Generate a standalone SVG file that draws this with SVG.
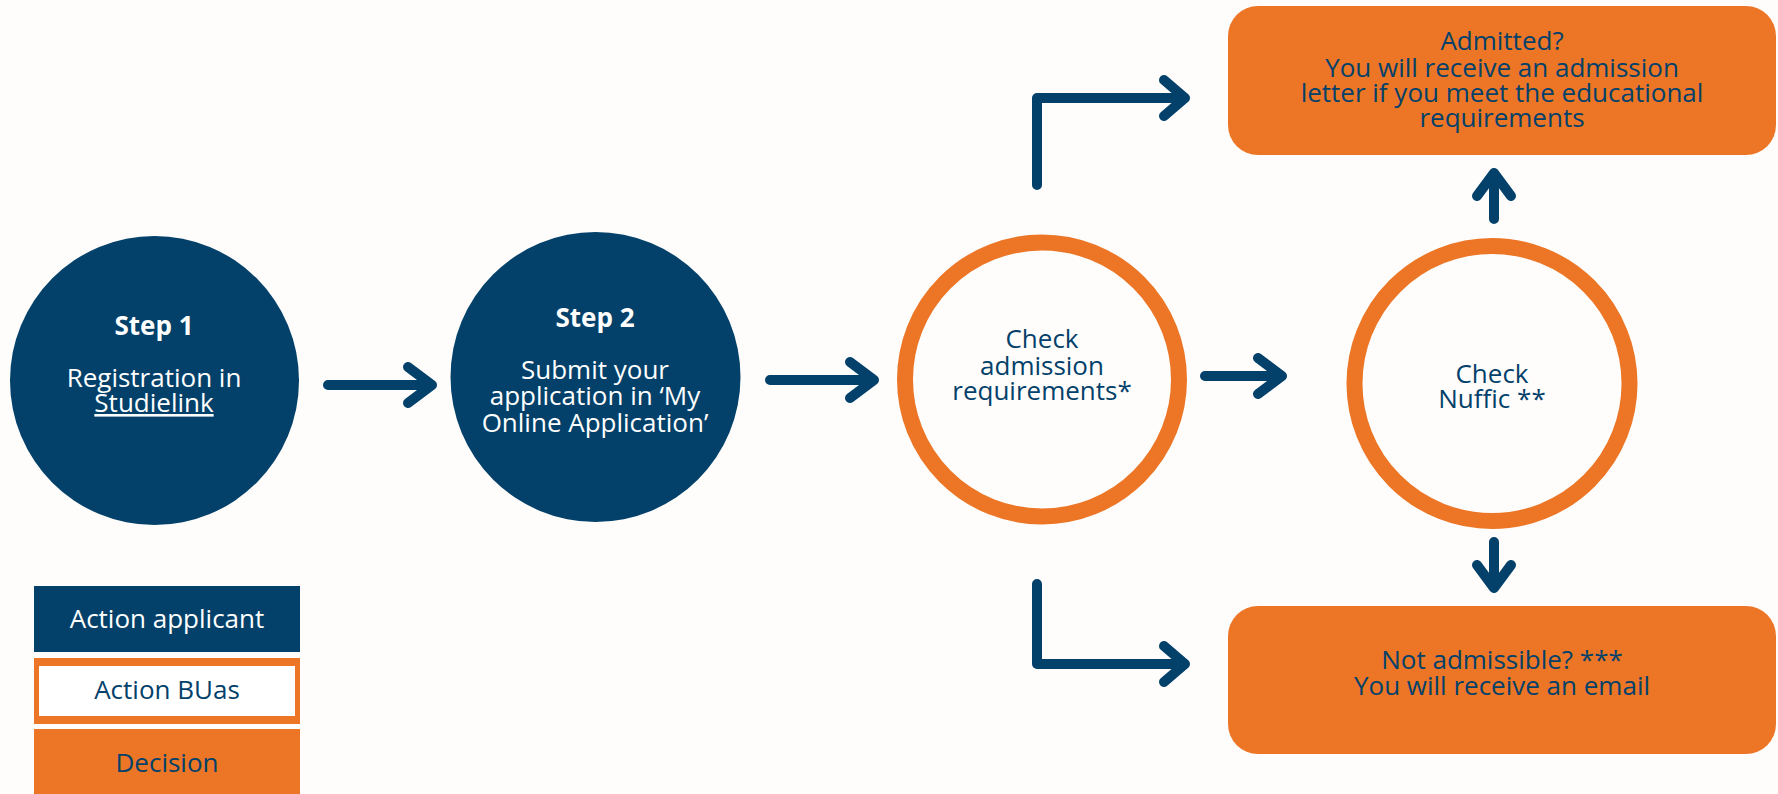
<svg xmlns="http://www.w3.org/2000/svg" width="1778" height="794" viewBox="0 0 1778 794">
<style>
.t{font-family:"Open Sans","Liberation Sans",sans-serif;font-size:26px;text-anchor:middle}
.w{fill:#ffffff}
.b{fill:#03416A}
.bold{font-weight:700}
.dark{fill:#03416A}
.ring{fill:#FEFDFC;stroke:#EC7625;stroke-width:16}
.box{fill:#EC7625}
.c{fill:none;stroke:#03416A;stroke-width:10;stroke-linecap:round;stroke-linejoin:round}
</style>
<rect x="0" y="0" width="1778" height="794" fill="#FEFDFC"/>
<g id="step1">
<circle class="dark" cx="154.5" cy="380.5" r="144.5"/>
<text class="t w bold" x="154" y="335">Step 1</text>
<text class="t w" x="154" y="387">Registration in</text>
<text class="t w" x="154" y="412" text-decoration="underline">Studielink</text>
</g>
<g id="step2">
<circle class="dark" cx="595.5" cy="377" r="145"/>
<text class="t w bold" x="595" y="327">Step 2</text>
<text class="t w" x="595" y="379">Submit your</text>
<text class="t w" x="595" y="405">application in ‘My</text>
<text class="t w" x="595" y="432">Online Application’</text>
</g>
<g id="check-admission">
<circle class="ring" cx="1042" cy="379.5" r="137"/>
<text class="t b" x="1042" y="348">Check</text>
<text class="t b" x="1042" y="375">admission</text>
<text class="t b" x="1042" y="400">requirements*</text>
</g>
<g id="check-nuffic">
<circle class="ring" cx="1492" cy="383.5" r="137.5"/>
<text class="t b" x="1492" y="383">Check</text>
<text class="t b" x="1492" y="408">Nuffic **</text>
</g>
<g id="admitted">
<rect class="box" x="1228" y="6" width="548" height="149" rx="30" ry="30"/>
<text class="t b" x="1502" y="50">Admitted?</text>
<text class="t b" x="1502" y="77">You will receive an admission</text>
<text class="t b" x="1502" y="102">letter if you meet the educational</text>
<text class="t b" x="1502" y="127">requirements</text>
</g>
<g id="not-admissible">
<rect class="box" x="1228" y="606" width="548" height="148" rx="30" ry="30"/>
<text class="t b" x="1502" y="669">Not admissible? ***</text>
<text class="t b" x="1502" y="695">You will receive an email</text>
</g>
<g id="legend">
<g id="legend-applicant">
<rect class="dark" x="34" y="586" width="266" height="66"/>
<text class="t w" x="167" y="628">Action applicant</text>
</g>
<g id="legend-buas">
<rect class="box" x="34" y="658" width="266" height="66"/>
<rect x="39" y="666" width="256" height="50" fill="#ffffff"/>
<text class="t b" x="167" y="699">Action BUas</text>
</g>
<g id="legend-decision">
<rect class="box" x="34" y="729" width="266" height="70"/>
<text class="t b" x="167" y="772">Decision</text>
</g>
</g>
<g id="connectors">
<path class="c" d="M328 385 H432 M408 367 L432 385 L408 403"/>
<path class="c" d="M770 380 H874 M850 362 L874 380 L850 398"/>
<path class="c" d="M1205 376 H1282 M1258 358 L1282 376 L1258 394"/>
<path class="c" d="M1037 185 V98 H1185 M1164 80 L1185 98 L1164 116"/>
<path class="c" d="M1037 584 V664 H1185 M1164 646 L1185 664 L1164 682"/>
<path class="c" d="M1494 219 V173 M1477 196 L1494 173 L1511 196"/>
<path class="c" d="M1494 542 V588 M1477 565 L1494 588 L1511 565"/>
</g>
</svg>
